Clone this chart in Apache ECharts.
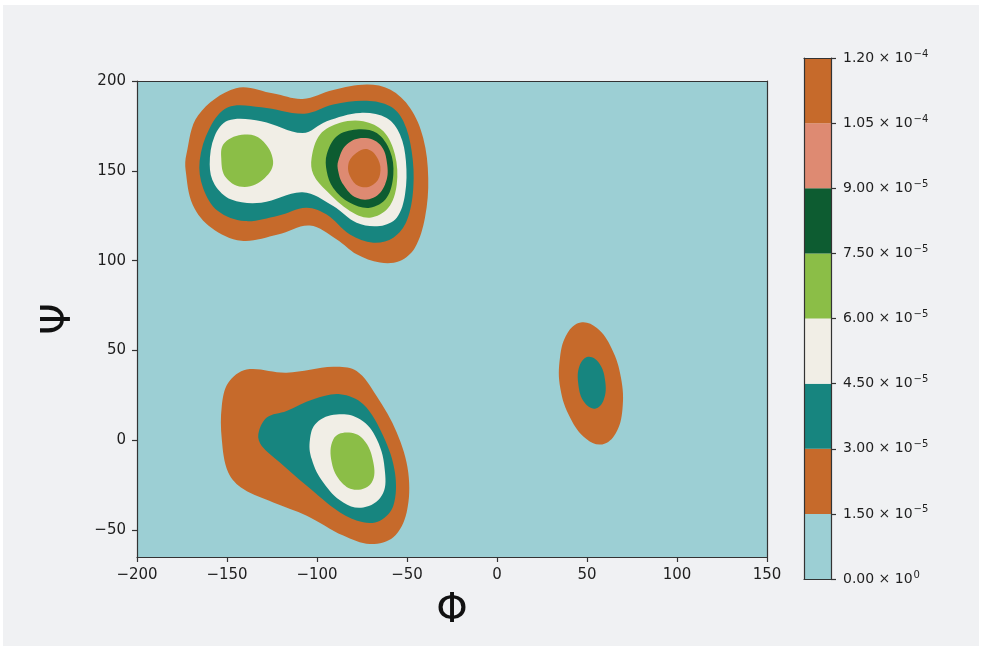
<!DOCTYPE html>
<html><head><meta charset="utf-8">
<script src="https://cdn.jsdelivr.net/npm/echarts@6/dist/echarts.min.js"></script>
<style>html,body{margin:0;padding:0;background:#ffffff}#c{width:984px;height:650px}</style>
</head><body><div id="c"></div>
<script>
// ---- axes / ticks ----
const phiRange = [-200, 150];
const psiRange = [-65, 200];
const phiTicks = [-200, -150, -100, -50, 0, 50, 100, 150];
const psiTicks = [-50, 0, 50, 100, 150, 200];

// ---- contour levels (colorbar) ----
const levelTicks = [0, 0.000015, 0.00003, 0.000045, 0.00006, 0.000075, 0.00009, 0.000105, 0.00012];
const levelMantissa = ['0.00', '1.50', '3.00', '4.50', '6.00', '7.50', '9.00', '1.05', '1.20'];
const levelExponent = ['0', '−5', '−5', '−5', '−5', '−5', '−5', '−4', '−4'];
const levelColors = ['#9ccfd4', '#c66a2b', '#17857f', '#f1eee6', '#8bbe47', '#0d5c31', '#de8a72', '#c66a2b'];

// ---- contour outlines, [phi, psi] ----
const domainOutline = [[-200, -65], [150, -65], [150, 200], [-200, 200]];

const betaLevel1 = [[-166,181],[-172.6,159],[-173,150.5],[-169,131],[-158.7,118.3],[-142,111],[-121.7,114.5],[-104,119.5],[-89,111.7],[-78,103.5],[-65,98.9],[-54,99.8],[-45.6,107.2],[-40,124],[-38.2,146],[-41,168.3],[-48.3,185],[-59.4,195.2],[-72.4,198],[-91,195],[-108,190],[-124,193],[-145,196]];
const betaLevel2 = [[-159.6,173.9],[-165.2,155.4],[-163.3,140.5],[-155,127.6],[-140.2,122],[-121.7,125],[-106,129.5],[-94.6,125.7],[-81.7,114.6],[-68.7,110],[-57.6,112.8],[-50.2,122],[-46.5,140.5],[-47.4,160.9],[-52,177.6],[-59.4,185.9],[-72.4,189],[-91,186.9],[-107,181.8],[-131,185.4],[-149.4,185.4]];
const betaLevel3 = [[-156.9,169.3],[-159.6,153.5],[-156.9,142.4],[-147.6,134],[-131,132.2],[-108,138],[-91,130.4],[-78,121.1],[-65,119.3],[-55.7,123.9],[-51.1,136.8],[-50.6,155.4],[-53.9,170.2],[-61.3,179.4],[-76,182.2],[-94.6,177.6],[-108,171],[-131,177.6],[-149.4,178]];
const betaLevel4a = [[-151.3,165.6],[-153.2,157.2],[-150.4,146],[-140.2,141],[-129,146],[-124.4,155.4],[-131,167.4],[-140.2,170.2]];
const betaLevel4b = [[-103,157.2],[-98.3,170.2],[-87.2,176.7],[-74.3,177.6],[-63.1,172],[-56.7,159.1],[-55.7,142.4],[-60.4,129.4],[-70.6,123.9],[-81.7,127.6],[-94.6,138.7],[-102,148]];
const betaLevel5 = [[-94.6,159.1],[-89,169.3],[-78,173],[-66.8,171],[-59.4,160.9],[-57.6,148],[-61.3,135],[-70.6,129.4],[-81.7,132.2],[-91,140.5],[-94.6,149.8]];
const betaLevel6 = [[-88.2,155.4],[-83.5,164.6],[-74.3,168.3],[-65,164.6],[-61,153.5],[-62.2,142.4],[-68.7,135],[-78,135],[-85.4,142.4],[-88.2,149.8]];
const betaLevel7 = [[-82.6,153.5],[-78,160],[-71.5,161.9],[-66,156.3],[-65,148],[-68.7,142.4],[-75.2,141],[-80.7,145.2]];

const alphaLevel1 = [[-139.1,39.4],[-116.9,37.6],[-90.9,40.9],[-78,38.5],[-66.9,24.6],[-55.7,4.3],[-49.3,-17.9],[-50.2,-40.2],[-57.6,-54],[-70.6,-57.8],[-85.4,-53.1],[-105.7,-42],[-124.3,-34.6],[-140.9,-27.2],[-149.3,-17.9],[-152.9,0.6],[-152.9,19.1],[-149.3,32]];
const alphaLevel2 = [[-132.6,3.3],[-127.9,12.6],[-116.9,16.3],[-102,22.8],[-87.2,25.6],[-74.3,20],[-63.2,2.4],[-56.7,-17.9],[-57.6,-36.5],[-65,-44.8],[-74.3,-45.7],[-87.2,-40.2],[-105.7,-25.4],[-120.6,-12.4],[-130.7,-3.2]];
const alphaLevel3 = [[-103.9,0.6],[-100.2,9.8],[-89.1,14.4],[-76.1,11.7],[-66.8,0.6],[-62.2,-17.9],[-64.1,-30.9],[-74.3,-37.4],[-85.4,-34.6],[-96.5,-23.5],[-102.9,-10.6]];
const alphaLevel4 = [[-90.9,0.6],[-83.5,4.3],[-74.3,0.6],[-68.7,-12.4],[-69.6,-23.5],[-78,-27.6],[-86.3,-23.5],[-91.8,-12.4]];

const leftLevel1 = [[58.5,-2.3],[65.9,3.7],[69.7,17.2],[68.9,34.6],[63.7,51.1],[55.5,62.5],[46.5,65.6],[39.1,59.6],[35,46.1],[35.2,28.8],[40.8,12.2],[49.5,0.8]];
const leftLevel2 = [[54.5,17.6],[59.3,22.6],[60.1,33],[56.7,43],[50.7,46.5],[45.9,41.6],[45.2,31.1],[48.5,21.1]];

// [level index, outline, smooth]
const contours = [
  [0, domainOutline, 0],
  [1, betaLevel1, 0.35], [2, betaLevel2, 0.35], [3, betaLevel3, 0.35],
  [4, betaLevel4a, 0.4], [4, betaLevel4b, 0.35], [5, betaLevel5, 0.35], [6, betaLevel6, 0.4], [7, betaLevel7, 0.4],
  [1, alphaLevel1, 0.35], [2, alphaLevel2, 0.35], [3, alphaLevel3, 0.4], [4, alphaLevel4, 0.4],
  [1, leftLevel1, 0.4], [2, leftLevel2, 0.4]
];

const FONT = 'DejaVu Sans';
const LINE = { color: '#333333', width: 1.2 };
const minusFmt = v => String(v).replace('-', '\u2212');

const chart = echarts.init(document.getElementById('c'), null, { renderer: 'canvas' });
chart.setOption({
  animation: false,
  backgroundColor: '#ffffff',
  graphic: [
    { type: 'rect', z: -10, silent: true, shape: { x: 3, y: 5, width: 976, height: 641 }, style: { fill: '#f0f1f3' } },
    { type: 'text', z: 10, x: 452, y: 612, style: { text: 'Φ', font: '40px "DejaVu Sans"', fill: '#111', align: 'center', verticalAlign: 'middle' } },
    { type: 'text', z: 10, x: 60, y: 319, rotation: Math.PI / 2, style: { text: 'Ψ', font: '40px "DejaVu Sans"', fill: '#111', align: 'center', verticalAlign: 'middle' } }
  ],
  grid: [
    { left: 137, top: 81, width: 630, height: 476, containLabel: false },
    { left: 804, top: 58, width: 27, height: 521, containLabel: false }
  ],
  xAxis: [
    { gridIndex: 0, type: 'value', min: phiRange[0], max: phiRange[1], position: 'bottom', z: 10,
      axisLine: { show: true, onZero: false, lineStyle: LINE },
      axisTick: { show: true, length: 5, customValues: phiTicks, lineStyle: LINE },
      axisLabel: { customValues: phiTicks, formatter: minusFmt, fontSize: 15, fontFamily: FONT, color: '#1e1e1e', margin: 11 },
      splitLine: { show: false } },
    { gridIndex: 0, type: 'value', min: phiRange[0], max: phiRange[1], position: 'top', z: 10,
      axisLine: { show: true, onZero: false, lineStyle: LINE }, axisTick: { show: false }, axisLabel: { show: false }, splitLine: { show: false } },
    { gridIndex: 1, type: 'value', min: 0, max: 1, position: 'bottom', z: 10,
      axisLine: { show: true, onZero: false, lineStyle: LINE }, axisTick: { show: false }, axisLabel: { show: false }, splitLine: { show: false } },
    { gridIndex: 1, type: 'value', min: 0, max: 1, position: 'top', z: 10,
      axisLine: { show: true, onZero: false, lineStyle: LINE }, axisTick: { show: false }, axisLabel: { show: false }, splitLine: { show: false } }
  ],
  yAxis: [
    { gridIndex: 0, type: 'value', min: psiRange[0], max: psiRange[1], position: 'left', z: 10,
      axisLine: { show: true, onZero: false, lineStyle: LINE },
      axisTick: { show: true, length: 5, customValues: psiTicks, lineStyle: LINE },
      axisLabel: { customValues: psiTicks, formatter: minusFmt, fontSize: 15, fontFamily: FONT, color: '#1e1e1e', margin: 11 },
      splitLine: { show: false } },
    { gridIndex: 0, type: 'value', min: psiRange[0], max: psiRange[1], position: 'right', z: 10,
      axisLine: { show: true, onZero: false, lineStyle: LINE }, axisTick: { show: false }, axisLabel: { show: false }, splitLine: { show: false } },
    { gridIndex: 1, type: 'value', min: levelTicks[0], max: levelTicks[levelTicks.length - 1], position: 'right', z: 10,
      axisLine: { show: true, onZero: false, lineStyle: LINE },
      axisTick: { show: true, length: 5, customValues: levelTicks, lineStyle: LINE },
      axisLabel: { customValues: levelTicks, margin: 12, color: '#1e1e1e',
        formatter: v => { const i = levelTicks.findIndex(t => Math.abs(t - v) < 1e-9); return i >= 0 ? '{m|' + levelMantissa[i] + ' × 10}{e|' + levelExponent[i] + '}' : ''; },
        rich: {
          m: { fontSize: 14, fontFamily: FONT, color: '#1e1e1e', lineHeight: 20, verticalAlign: 'middle' },
          e: { fontSize: 10, fontFamily: FONT, color: '#1e1e1e', lineHeight: 20, verticalAlign: 'top', padding: [1, 0, 0, 1] }
        } },
      splitLine: { show: false } },
    { gridIndex: 1, type: 'value', min: levelTicks[0], max: levelTicks[levelTicks.length - 1], position: 'left', z: 10,
      axisLine: { show: true, onZero: false, lineStyle: LINE }, axisTick: { show: false }, axisLabel: { show: false }, splitLine: { show: false } }
  ],
  series: [
    { type: 'custom', xAxisIndex: 0, yAxisIndex: 0, clip: true, silent: true,
      data: contours.map((c, i) => [i]),
      renderItem: (params, api) => {
        const c = contours[params.dataIndex];
        return { type: 'polygon',
          shape: { points: c[1].map(p => api.coord(p)), smooth: c[2] },
          style: { fill: levelColors[c[0]], stroke: null } };
      } },
    { type: 'custom', xAxisIndex: 2, yAxisIndex: 2, silent: true,
      data: levelColors.map((col, i) => [i]),
      renderItem: (params, api) => {
        const i = params.dataIndex;
        const a = api.coord([0, levelTicks[i]]);
        const b = api.coord([1, levelTicks[i + 1]]);
        return { type: 'rect', shape: { x: a[0], y: b[1], width: b[0] - a[0], height: a[1] - b[1] },
          style: { fill: levelColors[i], stroke: null } };
      } }
  ]
});
</script></body></html>
